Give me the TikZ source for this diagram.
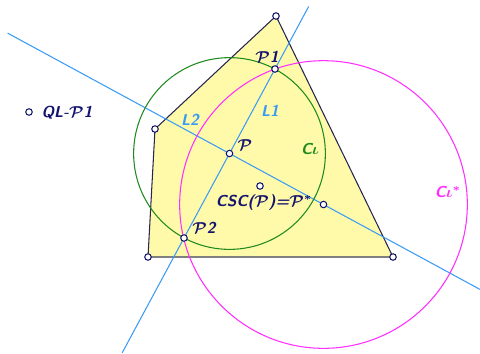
\documentclass[tikz,border=0pt]{standalone}
\usepackage{amsmath,amssymb}
\usepackage{xcolor}
\usepackage{tikz}
\usetikzlibrary{calc}
\definecolor{gnavy}{HTML}{14146E}
\definecolor{gedge}{HTML}{26264F}
\definecolor{gline}{HTML}{3A9BF5}
\definecolor{ggreen}{HTML}{1F8A1F}
\definecolor{gmag}{HTML}{FF2EFF}
\definecolor{gfill}{HTML}{FFFAAA}

\begin{document}
\begin{tikzpicture}[x=0.02cm,y=-0.02cm,
  pt/.style={circle,draw=gnavy,fill=white,inner sep=0pt,minimum size=0.13cm,semithick},
  lbl/.style={font=\small\sffamily\bfseries\slshape\boldmath,text=gnavy,inner sep=1pt},
  llbl/.style={lbl,text=gline},
  ln/.style={gline,semithick}]
\useasboundingbox (0,0) rectangle (480,353);
\coordinate (A) at (276,16);
\coordinate (B) at (393,257);
\coordinate (C) at (148,257);
\coordinate (D) at (155,129);
\coordinate (p1) at (275,69);
\coordinate (p2) at (184,238);
\coordinate (p) at ($(p1)!0.5!(p2)$);
\coordinate (ps) at (323.5,204.5);
\fill[gfill] (A)--(B)--(C)--(D)--cycle;
\draw[gedge,semithick] (D)--(A)--(B); \draw[gedge,semithick] (C)--(D);
\draw[gray,thick] (C)--(B);
\draw[ln] ($(p2)!-0.68!(p1)$) -- ($(p2)!1.37!(p1)$);
\draw[ln] ($(p)!-2.36!(ps)$) -- ($(p)!2.7!(ps)$);
\draw[ggreen,semithick] let \p1=($(p1)-(p)$) in (p) circle ({veclen(\x1,\y1)});
\draw[gmag,semithick] let \p1=($(p1)-(ps)$) in (ps) circle ({veclen(\x1,\y1)});
\node[pt] (nA) at (A) {}; \node[pt] (nB) at (B) {};
\node[pt] (nC) at (C) {}; \node[pt] (nD) at (D) {};
\node[pt] (nP1) at (p1) {}; \node[pt] (nP2) at (p2) {};
\node[pt] (nP) at (p) {}; \node[pt] (nPs) at (ps) {};
\node[pt] (nM) at (260,186) {};
\node[pt] (nQ) at (29,112) {};
\node[lbl] (tQ) at (67,113) {QL-$\mathcal{P}$1};
\node[lbl] (tP1) at (267,57) {$\mathcal{P}$1};
\node[lbl] (tP) at (245,145) {$\mathcal{P}$};
\node[lbl] (tP2) at (204,228) {$\mathcal{P}$2};
\node[lbl] (tcsc) at (264,203) {CSC($\mathcal{P}$)=$\mathcal{P}^{*}$};
\node[llbl] (tL1) at (270,111) {L1};
\node[llbl] (tL2) at (190,120) {L2};
\node[lbl,text=ggreen] (tCi) at (310,149) {C$\iota$};
\node[lbl,text=gmag] (tCs) at (448,192) {C$\iota^{*}$};
\end{tikzpicture}
\end{document}
